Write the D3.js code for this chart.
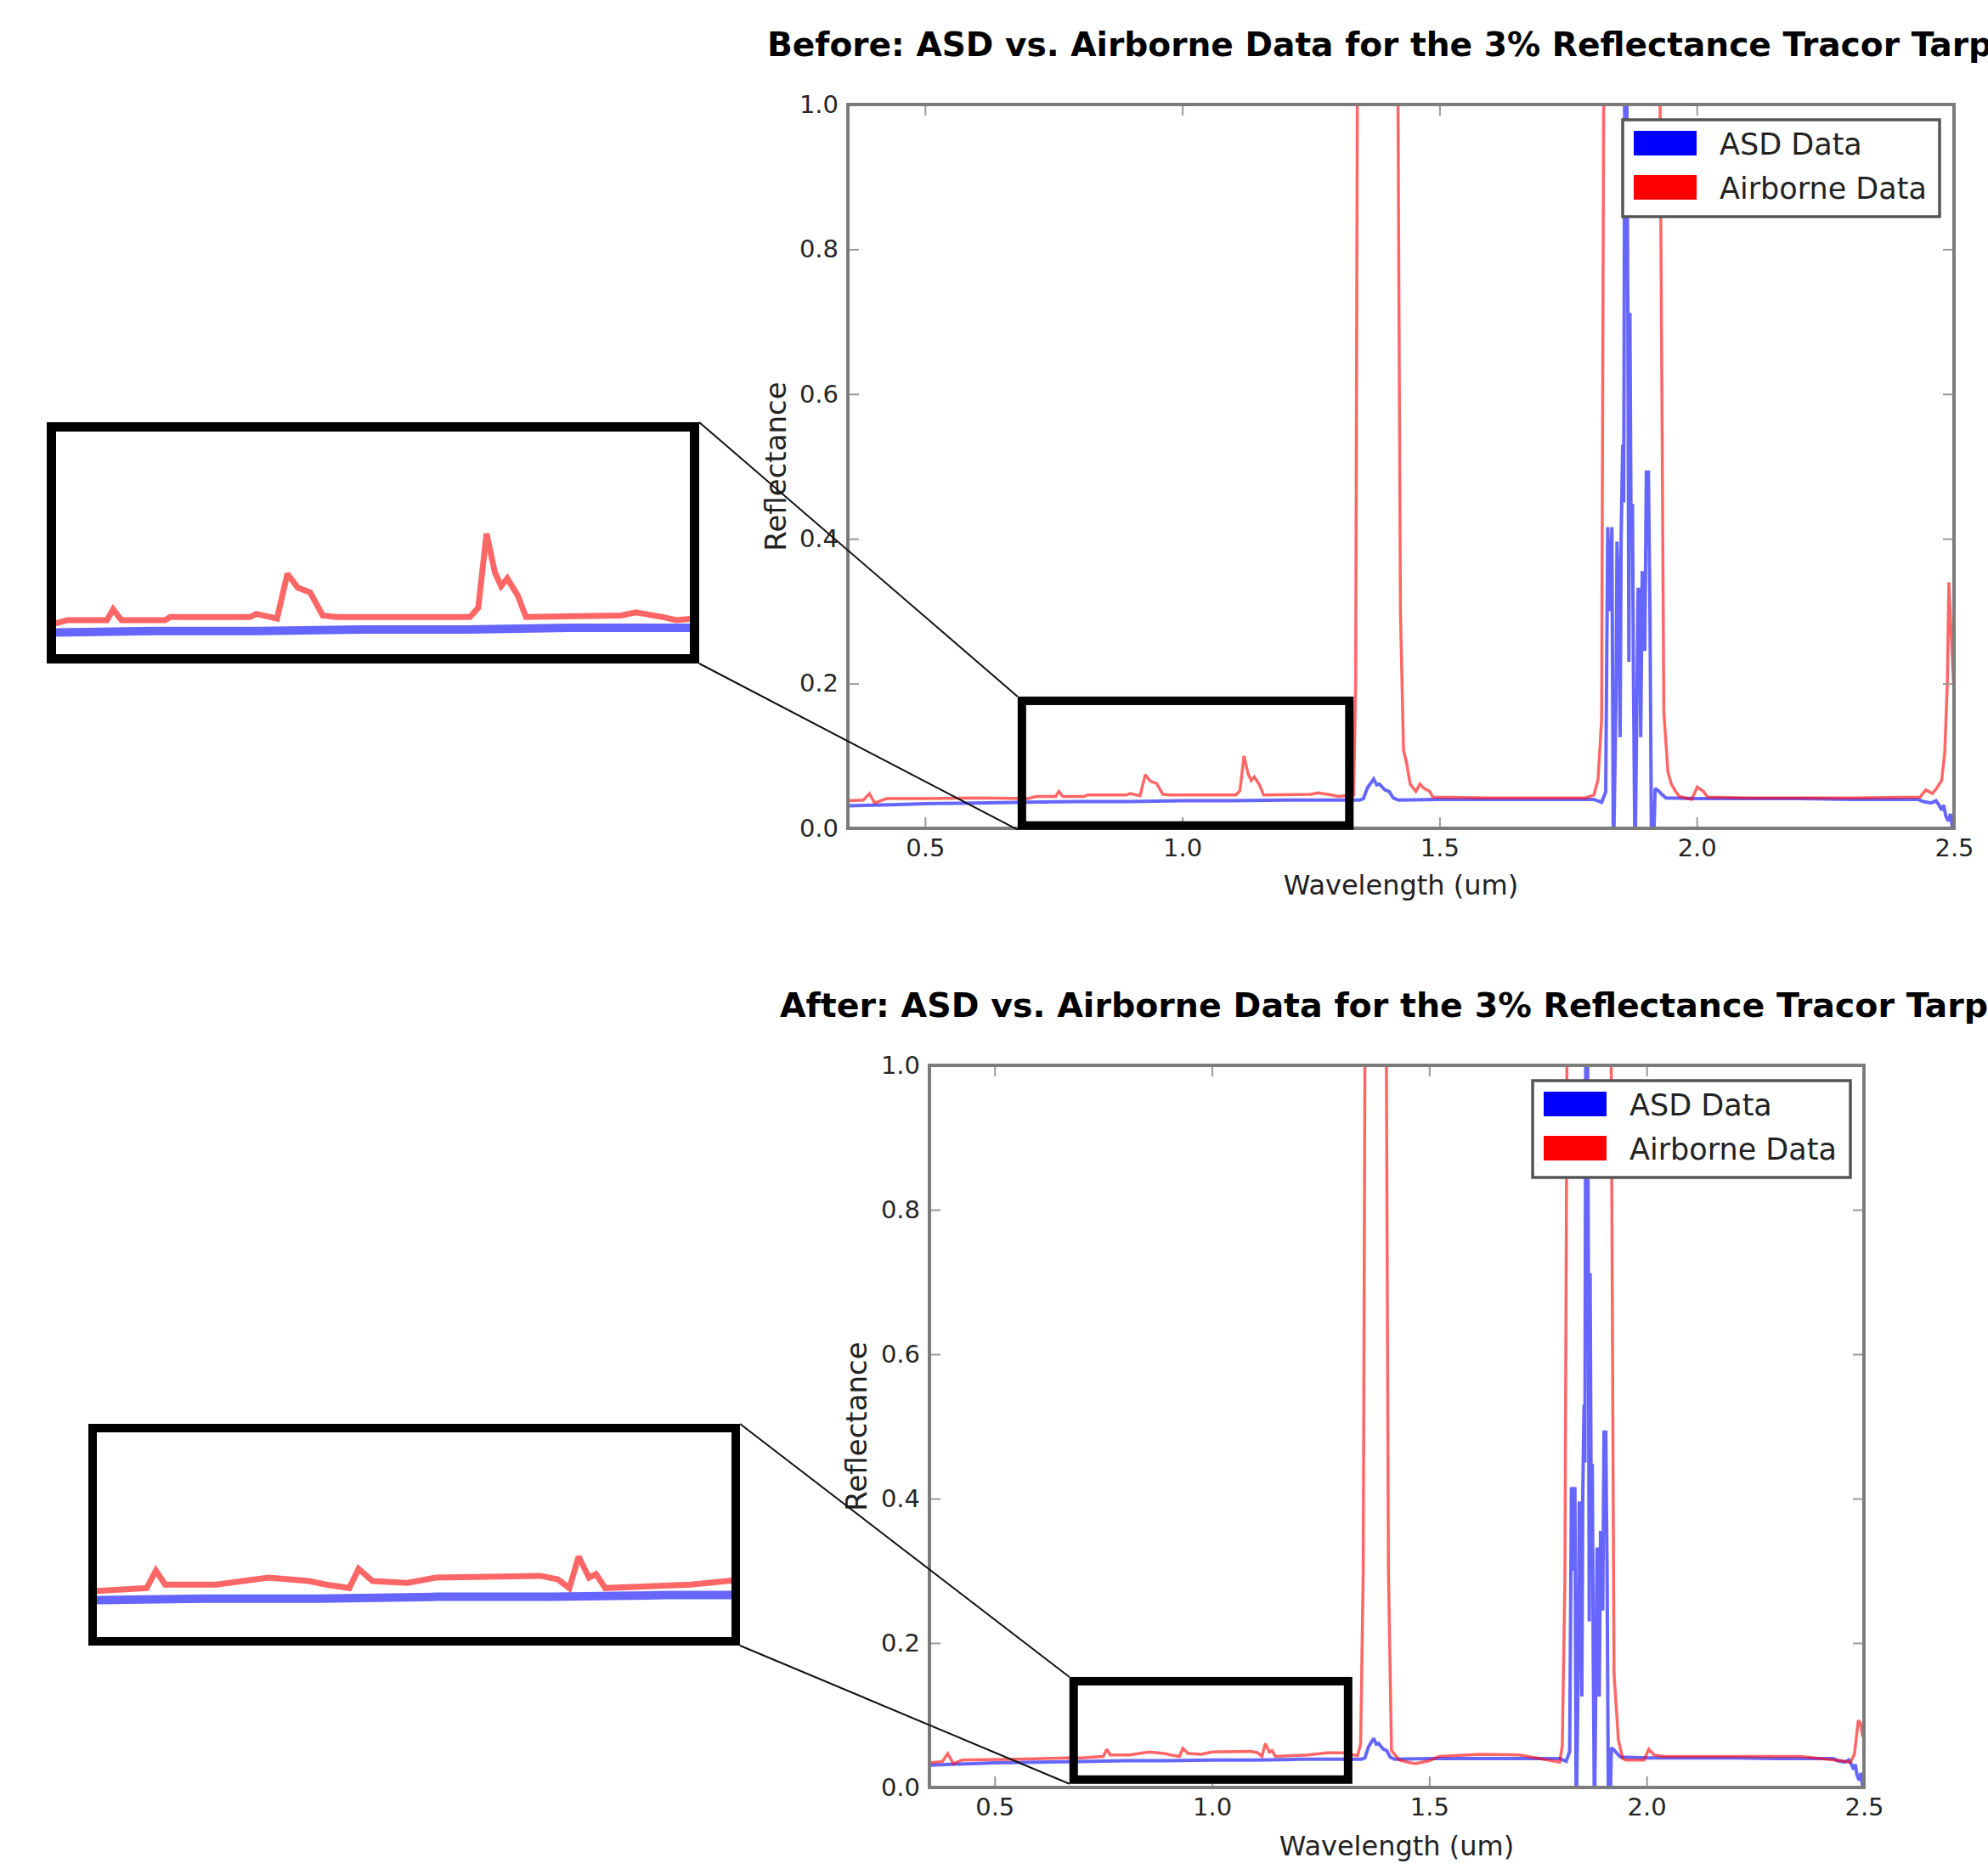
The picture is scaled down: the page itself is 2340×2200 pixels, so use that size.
<!DOCTYPE html>
<html>
<head>
<meta charset="utf-8">
<script src="https://cdn.jsdelivr.net/npm/d3@7"></script>
<style>
  body { margin: 0; background: #fff; }
  svg { display: block; }
</style>
</head>
<body>
<div id="chart"></div>
<script>
const W = 2340
const H = 2200

const seriesNames = ['ASD Data', 'Airborne Data']
const seriesColors = ['#0000ff', '#ff0000']
const chartTitles = [
  'Before: ASD vs. Airborne Data for the 3% Reflectance Tracor Tarp',
  'After: ASD vs. Airborne Data for the 3% Reflectance Tracor Tarp'
]
const xLabel = 'Wavelength (um)'
const yLabel = 'Reflectance'
const xDomain = [0.35, 2.5]
const yDomain = [0, 1]
const xTicks = [0.5, 1.0, 1.5, 2.0, 2.5]
const yTicks = [0.0, 0.2, 0.4, 0.6, 0.8, 1.0]

// ground spectrometer, same in both panels
const asdWavelength = [0.350, 0.400, 0.450, 0.500, 0.600, 0.700, 0.800, 0.900, 1.000, 1.100, 1.200, 1.300,
  1.345, 1.352, 1.360, 1.366, 1.372, 1.378, 1.383, 1.394, 1.402, 1.410, 1.420, 1.500, 1.600, 1.700, 1.780,
  1.800, 1.815, 1.823, 1.827, 1.832, 1.835, 1.838, 1.843, 1.845, 1.849, 1.851, 1.853, 1.856, 1.858, 1.860,
  1.864, 1.866, 1.868, 1.870, 1.872, 1.875, 1.877, 1.880, 1.884, 1.886, 1.889, 1.891, 1.894, 1.897, 1.899,
  1.902, 1.906, 1.909, 1.912, 1.916, 1.919, 1.925, 1.932, 1.940, 2.000, 2.100, 2.200, 2.300, 2.400, 2.430,
  2.440, 2.456, 2.465, 2.471, 2.476, 2.480, 2.484, 2.489, 2.493, 2.497, 2.500]
const asdReflectance = [0.031, 0.032, 0.033, 0.034, 0.035, 0.036, 0.037, 0.037, 0.038, 0.038, 0.039, 0.039,
  0.039, 0.041, 0.056, 0.062, 0.068, 0.060, 0.061, 0.053, 0.051, 0.042, 0.039, 0.040, 0.040, 0.040, 0.040,
  0.040, 0.036, 0.050, 0.416, 0.300, 0.416, -0.050, 0.180, 0.396, 0.300, 0.126, 0.400, 0.530, 0.450, 1.050,
  1.050, 0.712, 0.230, 0.712, 0.446, 0.446, 0.200, -0.050, 0.200, 0.330, 0.330, 0.126, 0.353, 0.353, 0.245,
  0.492, 0.492, 0.300, -0.030, -0.030, 0.055, 0.052, 0.047, 0.042, 0.041, 0.041, 0.041, 0.040, 0.040, 0.040,
  0.037, 0.035, 0.038, 0.032, 0.025, 0.032, 0.017, 0.010, 0.020, 0.000, -0.010]

// airborne, before correction
const beforeWavelength = [0.350, 0.380, 0.392, 0.402, 0.425, 0.500, 0.600, 0.700, 0.716, 0.754, 0.760, 0.768,
  0.810, 0.815, 0.892, 0.898, 0.918, 0.928, 0.938, 0.950, 0.962, 0.975, 1.104, 1.112, 1.120, 1.128, 1.134,
  1.140, 1.150, 1.158, 1.250, 1.264, 1.290, 1.303, 1.333, 1.337, 1.341, 1.418, 1.424, 1.430, 1.436, 1.443,
  1.454, 1.462, 1.470, 1.481, 1.487, 1.600, 1.700, 1.783, 1.800, 1.808, 1.815, 1.820, 1.927, 1.936, 1.944,
  1.950, 1.958, 1.966, 1.990, 2.001, 2.013, 2.021, 2.100, 2.200, 2.300, 2.434, 2.445, 2.458, 2.467, 2.476,
  2.482, 2.487, 2.490, 2.495, 2.499]
const beforeReflectance = [0.038, 0.039, 0.048, 0.035, 0.041, 0.041, 0.042, 0.041, 0.044, 0.044, 0.051, 0.044,
  0.044, 0.046, 0.046, 0.048, 0.045, 0.074, 0.065, 0.062, 0.047, 0.046, 0.046, 0.052, 0.100, 0.075, 0.066,
  0.071, 0.060, 0.046, 0.047, 0.049, 0.046, 0.044, 0.046, 0.200, 1.200, 1.200, 0.300, 0.108, 0.090, 0.061,
  0.051, 0.061, 0.055, 0.051, 0.043, 0.042, 0.042, 0.042, 0.046, 0.067, 0.150, 1.200, 1.200, 0.160, 0.078,
  0.062, 0.052, 0.044, 0.040, 0.057, 0.051, 0.043, 0.042, 0.042, 0.042, 0.043, 0.053, 0.048, 0.056, 0.066,
  0.105, 0.200, 0.340, 0.260, 0.200]

// airborne, after correction
const afterWavelength = [0.350, 0.380, 0.392, 0.405, 0.425, 0.550, 0.669, 0.700, 0.750, 0.758, 0.766, 0.810,
  0.855, 0.890, 0.905, 0.925, 0.933, 0.945, 0.975, 1.000, 1.090, 1.105, 1.115, 1.123, 1.132, 1.138, 1.146,
  1.220, 1.265, 1.300, 1.335, 1.342, 1.348, 1.353, 1.400, 1.406, 1.413, 1.431, 1.450, 1.468, 1.500, 1.523,
  1.616, 1.708, 1.773, 1.800, 1.806, 1.812, 1.818, 1.917, 1.925, 1.935, 1.945, 1.952, 1.994, 2.005, 2.017,
  2.040, 2.200, 2.354, 2.446, 2.469, 2.478, 2.487, 2.492, 2.497]
const afterReflectance = [0.034, 0.036, 0.047, 0.033, 0.038, 0.039, 0.041, 0.041, 0.043, 0.053, 0.045, 0.045,
  0.049, 0.047, 0.045, 0.043, 0.054, 0.047, 0.046, 0.049, 0.050, 0.048, 0.043, 0.061, 0.049, 0.051, 0.043,
  0.045, 0.048, 0.048, 0.044, 0.060, 0.300, 1.200, 1.200, 0.300, 0.051, 0.038, 0.035, 0.033, 0.037, 0.043,
  0.046, 0.045, 0.038, 0.035, 0.058, 0.290, 1.200, 1.200, 0.158, 0.066, 0.040, 0.038, 0.038, 0.053, 0.045,
  0.043, 0.043, 0.043, 0.037, 0.035, 0.046, 0.093, 0.089, 0.070]

// zoom rectangle on the plot and the view shown in the enlarged inset, [x0, x1, y0, y1] in data units
const beforeZoomBox = [0.680, 1.333, -0.002, 0.182]
const afterZoomBox = [0.672, 1.323, 0.005, 0.153]
const beforeInsetView = [0.705, 1.316, 0.022, 0.166]
const afterInsetView = [0.707, 1.255, 0.015, 0.132]

// page layout, pixels
const panels = [
  {
    title: chartTitles[0], titleX: 903, titleY: 66, titleLength: 1442,
    left: 998, right: 2300, top: 123, bottom: 975,
    wavelength: beforeWavelength, reflectance: beforeReflectance,
    zoomBox: beforeZoomBox, insetView: beforeInsetView,
    inset: { left: 55, right: 823, top: 497, bottom: 781, border: 11 },
    legend: { left: 1910, top: 141, width: 373, height: 114 },
    yLabelX: 925, xLabelY: 1053
  },
  {
    title: chartTitles[1], titleX: 918, titleY: 1197, titleLength: 1422,
    left: 1094, right: 2194, top: 1254, bottom: 2104,
    wavelength: afterWavelength, reflectance: afterReflectance,
    zoomBox: afterZoomBox, insetView: afterInsetView,
    inset: { left: 104, right: 871, top: 1676, bottom: 1937, border: 10 },
    legend: { left: 1804, top: 1272, width: 374, height: 114 },
    yLabelX: 1020, xLabelY: 2184
  }
]

const svg = d3.select('#chart')
  .append('svg')
    .attr('width', W)
    .attr('height', H)
    .style('font-family', '"DejaVu Sans", sans-serif')

const defs = svg.append('defs')
const fmt = d3.format('.1f')

const drawSeries = (g, x, y, wl, refl, color, width) => {
  const line = d3.line()
    .x(d => x(d[0]))
    .y(d => y(d[1]))
  g.append('path')
    .datum(d3.zip(wl, refl))
    .attr('d', line)
    .attr('fill', 'none')
    .attr('stroke', color)
    .attr('stroke-width', width)
    .attr('stroke-opacity', 0.6)
    .attr('stroke-linejoin', 'miter')
    .attr('stroke-miterlimit', 2)
}

const styleAxis = (g) => {
  g.select('.domain').remove()
  g.selectAll('.tick line').attr('stroke', '#9a9a9a').attr('stroke-width', 2)
  g.selectAll('.tick text')
    .attr('fill', '#262626')
    .attr('font-size', 29)
    .attr('font-family', '"DejaVu Sans", sans-serif')
}

panels.forEach((p, i) => {
  const x = d3.scaleLinear().domain(xDomain).range([p.left, p.right])
  const y = d3.scaleLinear().domain(yDomain).range([p.bottom, p.top])
  const g = svg.append('g')

  g.append('text')
    .attr('x', p.titleX)
    .attr('y', p.titleY)
    .attr('font-size', 39)
    .attr('font-weight', 'bold')
    .attr('textLength', p.titleLength)
    .attr('lengthAdjust', 'spacingAndGlyphs')
    .attr('fill', '#000')
    .text(p.title)

  // data, clipped to the axes
  const clipId = 'clip-main-' + i
  defs.append('clipPath').attr('id', clipId)
    .append('rect')
      .attr('x', p.left).attr('y', p.top)
      .attr('width', p.right - p.left).attr('height', p.bottom - p.top)
  const plot = g.append('g').attr('clip-path', `url(#${clipId})`)
  drawSeries(plot, x, y, asdWavelength, asdReflectance, seriesColors[0], 4)
  drawSeries(plot, x, y, p.wavelength, p.reflectance, seriesColors[1], 3.5)

  // inward ticks on all four sides
  g.append('g').attr('transform', `translate(0,${p.bottom})`)
    .call(d3.axisBottom(x).tickValues(xTicks).tickFormat(fmt).tickSizeInner(-13).tickSizeOuter(0).tickPadding(12))
    .call(styleAxis)
  g.append('g').attr('transform', `translate(0,${p.top})`)
    .call(d3.axisTop(x).tickValues(xTicks).tickFormat('').tickSizeInner(-13).tickSizeOuter(0))
    .call(styleAxis)
  g.append('g').attr('transform', `translate(${p.left},0)`)
    .call(d3.axisLeft(y).tickValues(yTicks).tickFormat(fmt).tickSizeInner(-13).tickSizeOuter(0).tickPadding(11))
    .call(styleAxis)
  g.append('g').attr('transform', `translate(${p.right},0)`)
    .call(d3.axisRight(y).tickValues(yTicks).tickFormat('').tickSizeInner(-13).tickSizeOuter(0))
    .call(styleAxis)

  g.append('rect')
    .attr('x', p.left).attr('y', p.top)
    .attr('width', p.right - p.left).attr('height', p.bottom - p.top)
    .attr('fill', 'none')
    .attr('stroke', '#7c7c7c')
    .attr('stroke-width', 4)

  g.append('text')
    .attr('x', (p.left + p.right) / 2)
    .attr('y', p.xLabelY)
    .attr('text-anchor', 'middle')
    .attr('font-size', 32)
    .attr('fill', '#222')
    .text(xLabel)

  g.append('text')
    .attr('transform', `translate(${p.yLabelX},${(p.top + p.bottom) / 2}) rotate(-90)`)
    .attr('text-anchor', 'middle')
    .attr('font-size', 34)
    .attr('fill', '#222')
    .text(yLabel)

  // legend
  const lg = g.append('g').attr('transform', `translate(${p.legend.left},${p.legend.top})`)
  lg.append('rect')
    .attr('width', p.legend.width)
    .attr('height', p.legend.height)
    .attr('fill', '#fff')
    .attr('stroke', '#555')
    .attr('stroke-width', 3.5)
  seriesNames.forEach((name, k) => {
    lg.append('rect')
      .attr('x', 13)
      .attr('y', 13 + k * 52)
      .attr('width', 74)
      .attr('height', 29)
      .attr('fill', seriesColors[k])
    lg.append('text')
      .attr('x', 114)
      .attr('y', 41 + k * 52)
      .attr('font-size', 35)
      .attr('fill', '#222')
      .text(name)
  })

  // zoom rectangle on the plot
  const bw = 10
  const [bx0, bx1, by0, by1] = p.zoomBox
  const zb = { left: x(bx0), right: x(bx1), top: y(by1), bottom: y(by0) }
  g.append('rect')
    .attr('x', zb.left + bw / 2).attr('y', zb.top + bw / 2)
    .attr('width', zb.right - zb.left - bw).attr('height', zb.bottom - zb.top - bw)
    .attr('fill', 'none')
    .attr('stroke', '#000')
    .attr('stroke-width', bw)

  // connector lines inset -> zoom rectangle
  const ins = p.inset
  const connectors = [
    [[ins.right, ins.top], [zb.left, zb.top]],
    [[ins.right, ins.bottom], [zb.left, zb.bottom]]
  ]
  g.selectAll(null)
    .data(connectors)
    .enter()
    .append('line')
      .attr('x1', d => d[0][0]).attr('y1', d => d[0][1])
      .attr('x2', d => d[1][0]).attr('y2', d => d[1][1])
      .attr('stroke', '#111')
      .attr('stroke-width', 2)

  // enlarged inset
  const [vx0, vx1, vy0, vy1] = p.insetView
  const inner = {
    left: ins.left + ins.border, right: ins.right - ins.border,
    top: ins.top + ins.border, bottom: ins.bottom - ins.border
  }
  const ix = d3.scaleLinear().domain([vx0, vx1]).range([inner.left, inner.right])
  const iy = d3.scaleLinear().domain([vy0, vy1]).range([inner.bottom, inner.top])
  g.append('rect')
    .attr('x', inner.left).attr('y', inner.top)
    .attr('width', inner.right - inner.left).attr('height', inner.bottom - inner.top)
    .attr('fill', '#fff')
  const insetClip = 'clip-inset-' + i
  defs.append('clipPath').attr('id', insetClip)
    .append('rect')
      .attr('x', inner.left).attr('y', inner.top)
      .attr('width', inner.right - inner.left).attr('height', inner.bottom - inner.top)
  const ig = g.append('g').attr('clip-path', `url(#${insetClip})`)
  drawSeries(ig, ix, iy, asdWavelength, asdReflectance, seriesColors[0], 10)
  drawSeries(ig, ix, iy, p.wavelength, p.reflectance, seriesColors[1], 7)
  g.append('rect')
    .attr('x', ins.left + ins.border / 2).attr('y', ins.top + ins.border / 2)
    .attr('width', ins.right - ins.left - ins.border)
    .attr('height', ins.bottom - ins.top - ins.border)
    .attr('fill', 'none')
    .attr('stroke', '#000')
    .attr('stroke-width', ins.border)
})
</script>
</body>
</html>
